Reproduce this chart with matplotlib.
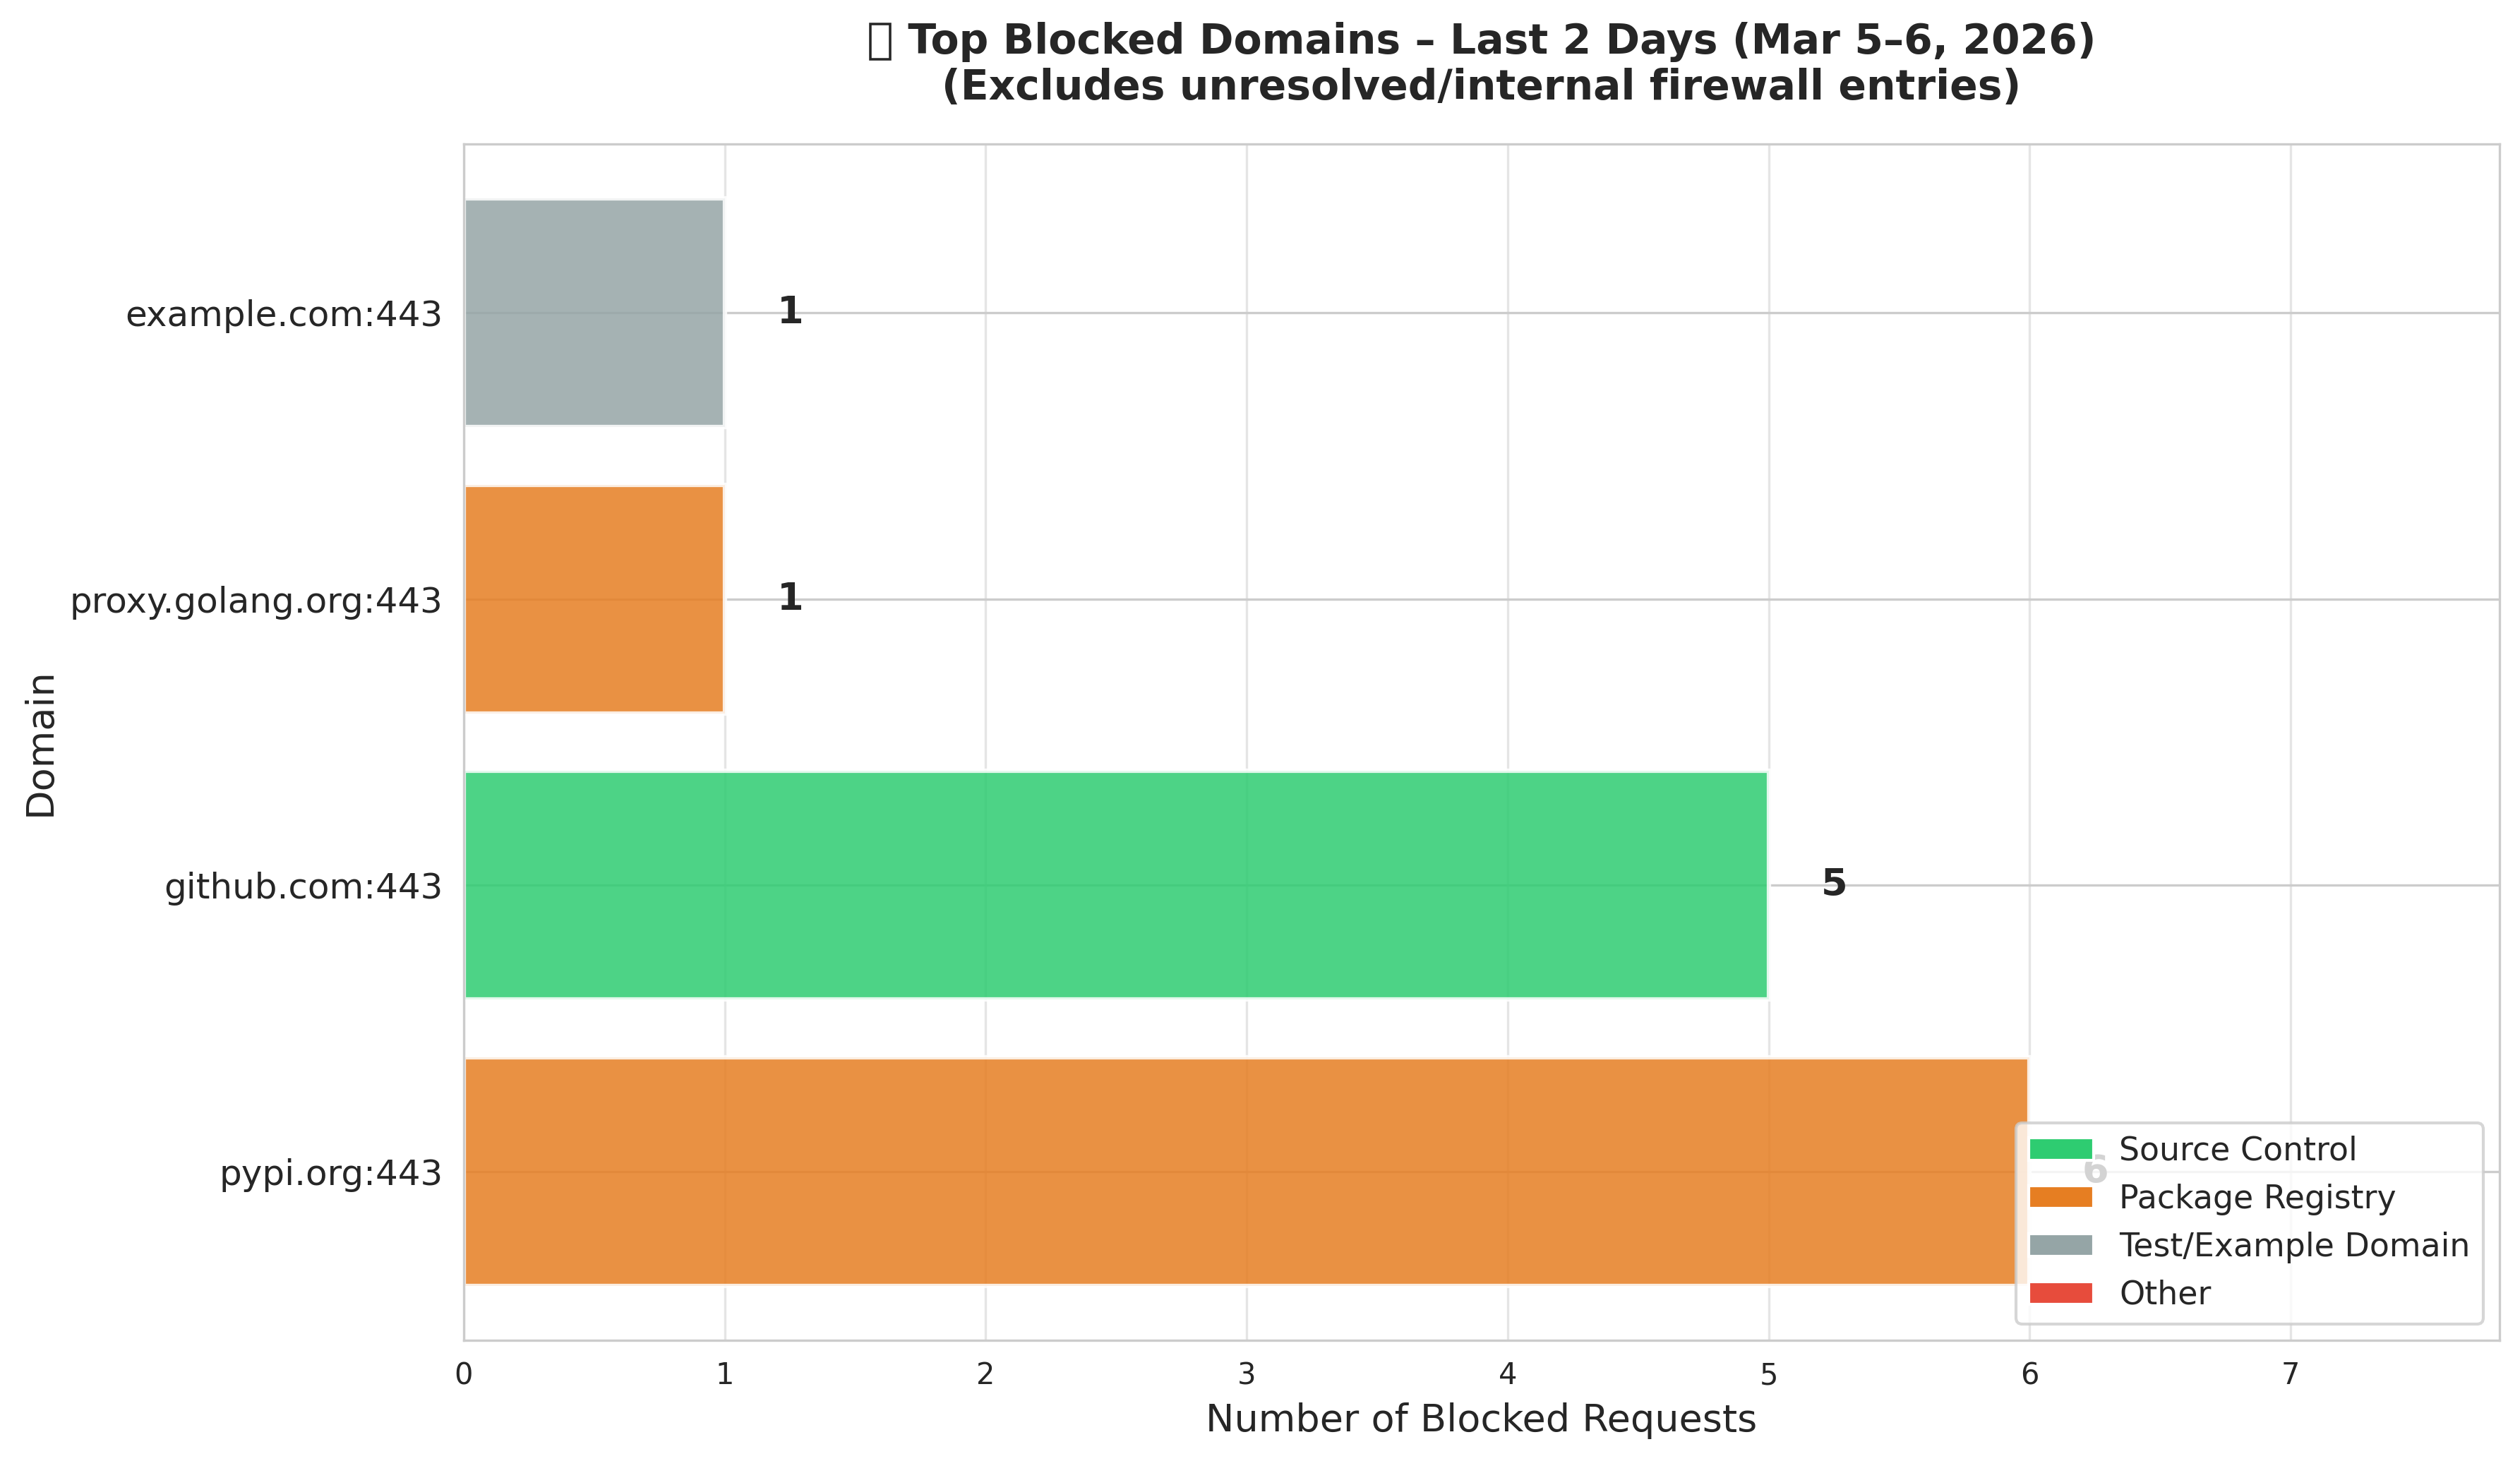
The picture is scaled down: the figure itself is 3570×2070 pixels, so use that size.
import matplotlib
matplotlib.use("Agg")
import matplotlib.pyplot as plt
import seaborn as sns
from matplotlib.patches import Patch, Rectangle

domains = ["pypi.org:443", "github.com:443", "proxy.golang.org:443", "example.com:443"]
blocked = [6, 5, 1, 1]
domain_types = ["Package Registry", "Source Control", "Package Registry", "Test/Example Domain"]

legend_names = ["Source Control", "Package Registry", "Test/Example Domain", "Other"]
legend_colors = ["#2ecc71", "#e67e22", "#95a5a6", "#e74c3c"]
color_map = dict(zip(legend_names, legend_colors))

sns.set_style("whitegrid")

fig, ax = plt.subplots(figsize=(11.9, 6.9))
fig.subplots_adjust(left=657 / 3570, right=3541 / 3570, top=1 - 204 / 2070, bottom=1 - 1899 / 2070)

bars = ax.barh(domains, blocked, color=[color_map[t] for t in domain_types],
               edgecolor="white", linewidth=1.5, alpha=0.85)

for bar, val in zip(bars, blocked):
    ax.text(val + 0.2, bar.get_y() + bar.get_height() / 2, str(val),
            va="center", ha="left", fontsize=13, fontweight="bold", color=".15")

ax.set_xlim(0, max(blocked) * 1.3)
ax.set_xlabel("Number of Blocked Requests", fontsize=13)
ax.set_ylabel("Domain", fontsize=13)
ax.set_title("\u2003Top Blocked Domains \u2013 Last 2 Days (Mar 5\u20136, 2026)\n"
             "(Excludes unresolved/internal firewall entries)",
             fontsize=14, fontweight="bold", pad=15)
# the reference has a missing-glyph box in front of the title, no font has it
fig.add_artist(Rectangle((1233 / 3570, 1 - 84 / 2070), 28 / 3570, 50 / 2070,
                         transform=fig.transFigure, fill=False, edgecolor=".15", linewidth=0.85))
ax.tick_params(axis="y", labelsize=12)
ax.tick_params(axis="x", labelsize=10)
ax.grid(axis="x", alpha=0.5)

handles = [Patch(facecolor=c, label=n) for n, c in zip(legend_names, legend_colors)]
ax.legend(handles=handles, loc="lower right", fontsize=11)

plt.savefig("out.png", dpi=300)
